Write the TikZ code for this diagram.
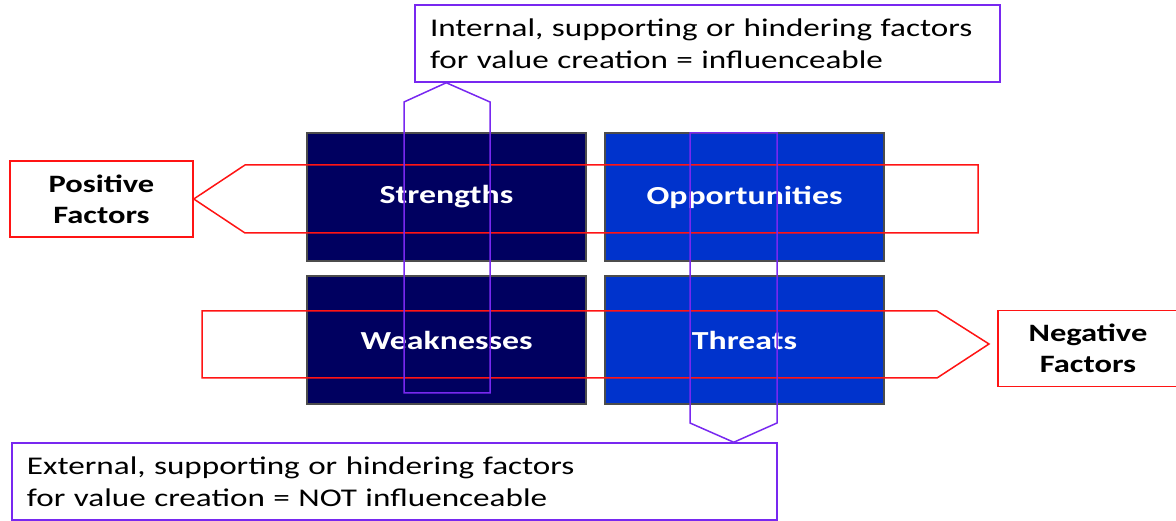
\documentclass[tikz,border=0pt]{standalone}
\usepackage{fontspec}
\setmainfont{Carlito}[FakeStretch=1.3]
\usetikzlibrary{positioning,calc}
\definecolor{swotnavy}{RGB}{0,0,96}
\definecolor{swotblue}{RGB}{0,51,204}
\definecolor{arrowred}{RGB}{255,20,20}
\definecolor{arrowpurple}{RGB}{120,40,240}

\begin{document}
\begin{tikzpicture}[x=1pt,y=1pt,
	swot/.style={shape=rectangle,draw=black!70,line width=1.2pt,minimum width=279pt,minimum height=128pt,inner sep=0pt,text=white,font=\fontsize{26}{30}\selectfont\bfseries},
	factor/.style={shape=rectangle,draw=arrowred,line width=1.5pt,minimum height=76pt,align=center,font=\fontsize{25}{31}\selectfont\bfseries},
	note/.style={shape=rectangle,draw=arrowpurple,line width=1.5pt,minimum height=77pt,inner xsep=15pt,align=left,font=\fontsize{25.5}{32}\selectfont},
	redarrow/.style={draw=arrowred,line width=1.5pt},
	purplearrow/.style={draw=arrowpurple,line width=1.5pt}]
	\useasboundingbox (0,0) rectangle (1176,521);
	% the four quadrants
	\node[swot,fill=swotnavy](S) at (446.5,324) {Strengths};
	\node[swot,fill=swotblue](O) at (744.5,324) {Opportunities};
	\node[swot,fill=swotnavy](W) at (446.5,181) {Weaknesses};
	\node[swot,fill=swotblue](T) at (744.5,181) {Threats};
	% side labels
	\node[factor,minimum width=183pt](PF) at (101.5,322) {Positive\\Factors};
	\node[factor,minimum width=180pt](NF) at (1088,172.5) {Negative\\Factors};
	% top and bottom labels
	\node[note,minimum width=585pt,text width=555pt](IN) at (707.5,477.5) {Internal, supporting or hindering factors\\for value creation = influenceable};
	\node[note,minimum width=765pt,text width=735pt](EX) at (394.5,39.5) {External, supporting or hindering factors\\for value creation = NOT influenceable};
	% block arrows
	\draw[redarrow] (PF.east) -- (245,356) -- (978,356) -- (978,288) -- (245,288) -- cycle;
	\draw[redarrow] (202,210) -- (937,210) -- (989,177) -- (937,143) -- (202,143) -- cycle;
	\draw[purplearrow] (404,128) -- (404,419) -- ($(IN.south west)+(32,0)$) -- (490,419) -- (490,128) -- cycle;
	\draw[purplearrow] (690,388) -- (690,98) -- ($(EX.north east)+(-44,0)$) -- (777,98) -- (777,388) -- cycle;
\end{tikzpicture}
\end{document}
